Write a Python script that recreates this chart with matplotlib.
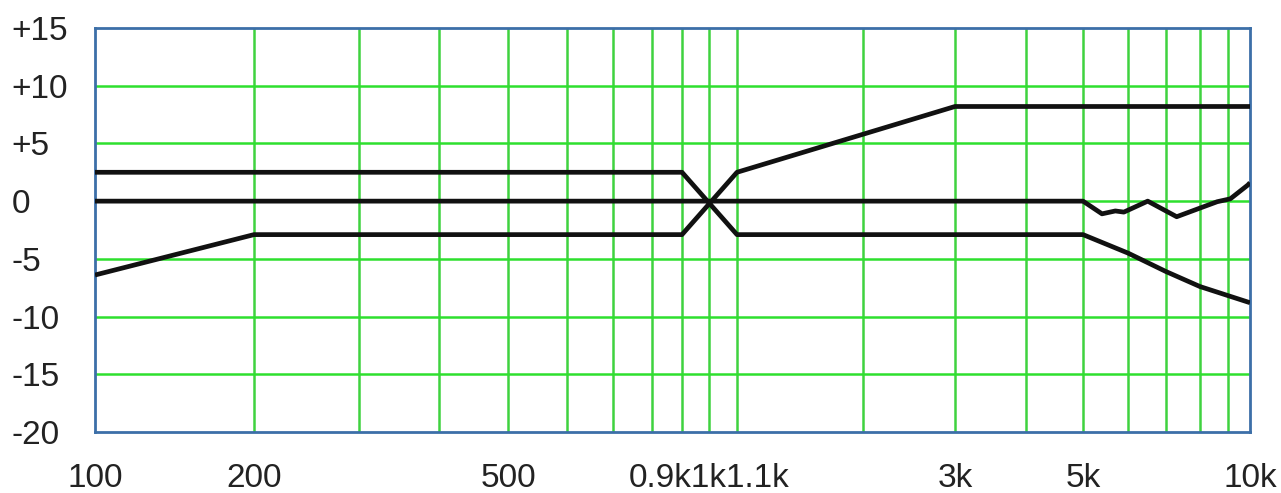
import numpy as np
import matplotlib.pyplot as plt

plt.switch_backend('Agg')
plt.rcParams['font.family'] = ['Liberation Sans Narrow', 'Liberation Sans', 'DejaVu Sans']

# grid frequencies of the printed chart and where they sit across the plot (0..1)
grid_freqs = [100, 200, 300, 400, 500, 600, 700, 800, 900, 1000, 1100,
              2000, 3000, 4000, 5000, 6000, 7000, 8000, 9000, 10000]
grid_pos = np.array([95, 254, 359, 439, 508, 567, 613, 652, 682, 709, 737,
                     863, 955, 1026, 1083, 1128, 1166, 1200, 1228, 1250])
grid_pos = (grid_pos - 95) / (1250 - 95)

x_ticks = [100, 200, 500, 1000, 3000, 5000, 10000]
x_labels = ['100', '200', '500', '0.9k1k1.1k', '3k', '5k', '10k']
y_ticks = [15, 10, 5, 0, -5, -10, -15, -20]
y_labels = ['+15', '+10', '+5', '0', '-5', '-10', '-15', '-20']

# response curves (Hz, dB)
cut_freq = [100, 900, 1100, 5000, 6000, 7000, 8000, 10000]
cut_db = [2.5, 2.5, -2.9, -2.9, -4.5, -6.1, -7.4, -8.8]

boost_freq = [100, 200, 900, 1100, 3000, 10000]
boost_db = [-6.4, -2.9, -2.9, 2.5, 8.2, 8.2]

flat_freq = [100, 5000, 5400, 5700, 5900, 6500, 7300, 8000, 8600, 9100, 9900, 10000]
flat_db = [0.0, 0.0, -1.1, -0.85, -0.95, 0.0, -1.35, -0.6, -0.05, 0.2, 1.4, 1.6]

log_f = np.log10(grid_freqs)


def forward(f):
    f = np.clip(np.asarray(f, dtype=float), 1e-3, None)
    return np.interp(np.log10(f), log_f, grid_pos)


def inverse(p):
    return 10 ** np.interp(p, grid_pos, log_f)


fig = plt.figure(figsize=(12.81, 4.93), dpi=100)
ax = fig.add_axes([95 / 1281, 61 / 493, 1155 / 1281, 404 / 493])
ax.set_xscale('function', functions=(forward, inverse))
ax.set_xlim(100, 10000)
ax.set_ylim(-20, 15)

# grid
for f in grid_freqs[1:-1]:
    ax.axvline(f, color='#3fd23f', lw=1.8, zorder=1)
for v in [10, 5, 0, -5, -10, -15]:
    ax.axhline(v, color='#2ee02e', lw=1.8, zorder=1)

for fx, db in [(cut_freq, cut_db), (boost_freq, boost_db), (flat_freq, flat_db)]:
    ax.plot(fx, db, color='#111111', lw=3.4, solid_capstyle='butt',
            solid_joinstyle='round', zorder=3)

ax.set_xticks(x_ticks)
ax.set_xticklabels(x_labels)
ax.xaxis.set_minor_locator(plt.NullLocator())
ax.set_yticks(y_ticks)
ax.set_yticklabels(y_labels, ha='left')
ax.tick_params(axis='x', length=0, pad=22, labelsize=24, labelcolor='#222222')
ax.tick_params(axis='y', length=0, pad=60, labelsize=24, labelcolor='#222222')

for s in ax.spines.values():
    s.set_color('#3c6fa8')
    s.set_linewidth(2)

fig.savefig('out.png', dpi=100, facecolor='white')
